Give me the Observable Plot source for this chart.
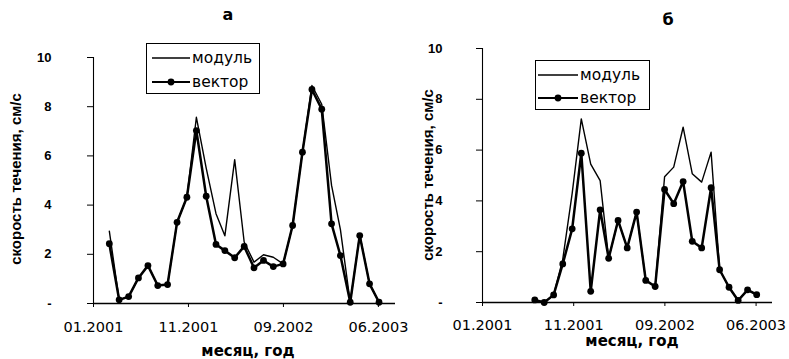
<!DOCTYPE html>
<html><head><meta charset="utf-8">
<script src="https://cdn.jsdelivr.net/npm/d3@7"></script>
<script src="https://cdn.jsdelivr.net/npm/@observablehq/plot@0.6"></script>
<style>
body{margin:0;background:#fff;font-family:"Liberation Sans",Arial,sans-serif;}
#wrap{position:relative;width:789px;height:359px;overflow:hidden;background:#fff;}
.panel{position:absolute;top:0;}
.t{position:absolute;white-space:nowrap;color:#000;transform:translate(-50%,-50%);font-weight:bold;line-height:1;}
.ylab{transform:translate(-50%,-50%) rotate(-90deg);font-family:"Liberation Sans",Arial,sans-serif;}
.h{font-family:"DejaVu Sans",sans-serif;}
.legend{position:absolute;border:1px solid #000;background:#fff;box-sizing:border-box;}
#wrap g[aria-label="x-axis tick label"]{font-family:"DejaVu Sans",sans-serif;font-size:14.5px;}
#wrap g[aria-label="y-axis tick label"]{font-family:"Liberation Sans",Arial,sans-serif;font-size:13px;font-weight:bold;}
</style></head><body><div id="wrap"></div>
<script>
// ---- data ----
const monthsA = ["2001-03","2001-04","2001-05","2001-06","2001-07","2001-08","2001-09","2001-10","2001-11","2001-12",
  "2002-01","2002-02","2002-03","2002-04","2002-05","2002-06","2002-07","2002-08","2002-09","2002-10","2002-11","2002-12",
  "2003-01","2003-02","2003-03","2003-04","2003-05","2003-06","2003-07"];
const modulA  = [2.94,0.15,0.28,1.04,1.54,0.73,0.77,3.30,4.32,7.57,5.50,3.65,2.75,5.85,2.50,1.68,1.98,1.88,1.61,3.17,6.15,8.86,8.10,4.80,3.00,0.05,2.80,0.80,0.05];
const vectorA = [2.43,0.15,0.28,1.04,1.54,0.73,0.77,3.30,4.32,7.03,4.36,2.40,2.15,1.86,2.32,1.45,1.75,1.50,1.61,3.17,6.15,8.70,7.90,3.24,1.95,0.05,2.76,0.80,0.05];

const monthsB = ["2001-07","2001-08","2001-09","2001-10","2001-11","2001-12",
  "2002-01","2002-02","2002-03","2002-04","2002-05","2002-06","2002-07","2002-08","2002-09","2002-10","2002-11","2002-12",
  "2003-01","2003-02","2003-03","2003-04","2003-05","2003-06","2003-07"];
const modulB  = [0.10,0.00,0.30,1.70,4.30,7.23,5.45,4.80,1.74,3.23,2.15,3.56,0.87,0.63,4.95,5.33,6.90,5.07,4.74,5.92,1.29,0.60,0.08,0.50,0.31];
const vectorB = [0.10,0.00,0.30,1.52,2.90,5.88,0.44,3.65,1.74,3.23,2.15,3.56,0.87,0.63,4.45,3.89,4.76,2.41,2.15,4.52,1.29,0.60,0.08,0.50,0.31];

const xTickDates  = ["2001-01-10","2001-11-06","2002-09-02","2003-06-29"];
const xTickLabels = ["01.2001","11.2001","09.2002","06.2003"];
const yTicks = [0,2,4,6,8,10];
const xDomainStr = ["2001-01-10","2003-08-22"];
const seriesNames = ["модуль","вектор"];
const panelTitles = ["а","б"];
const yLabel = "скорость течения, см/с";
const xLabel = "месяц, год";

// ---- build ----
const parseM = d3.utcParse("%Y-%m");
const parseD = d3.utcParse("%Y-%m-%d");
const xDomain = xDomainStr.map(parseD);
const tickDates = xTickDates.map(parseD);
const labelMap = new Map(tickDates.map((d,i)=>[+d, xTickLabels[i]]));
const wrap = document.getElementById("wrap");

function makePanel(months, modul, vector, o){
  const data = months.map((m,i)=>({date: parseM(m), modul: modul[i], vector: vector[i]}));
  const chart = Plot.plot({
    width: o.width, height: 359,
    marginLeft: o.ml, marginRight: o.mr, marginTop: o.mt, marginBottom: o.mb,
    style: {fontFamily: "'Liberation Sans', Arial, sans-serif", color: "#000", background: "transparent", overflow: "visible"},
    x: {type: "utc", domain: xDomain},
    y: {domain: [0, 10]},
    marks: [
      Plot.ruleY([0], {stroke: "#000", strokeWidth: 1.3}),
      Plot.ruleX([xDomain[0]], {y1: 0, y2: 10, stroke: "#000", strokeWidth: 1.1}),
      Plot.axisY(yTicks, {tickSize: 6, tickPadding: o.ytp, tickFormat: d => d === 0 ? "-" : String(d),
        fontSize: 13, fontWeight: "bold", label: null}),
      Plot.axisX(tickDates, {tickSize: 4, tickPadding: o.tp, tickFormat: d => labelMap.get(+d),
        fontSize: 14.5, label: null}),
      Plot.line(data, {x: "date", y: "modul", stroke: "#000", strokeWidth: 1.4}),
      Plot.line(data, {x: "date", y: "vector", stroke: "#000", strokeWidth: 2.5}),
      Plot.dot(data, {x: "date", y: "vector", r: 3.4, fill: "#000"})
    ]
  });
  const div = document.createElement("div");
  div.className = "panel";
  div.style.left = o.left + "px";
  div.appendChild(chart);
  wrap.appendChild(div);
}

function addText(txt, x, y, size, cls){
  const d = document.createElement("div");
  d.className = "t " + cls;
  d.textContent = txt;
  d.style.left = x + "px"; d.style.top = y + "px"; d.style.fontSize = size + "px";
  wrap.appendChild(d);
}

function addLegend(x, y, w, h, lx1, lx2, y1, y2){
  const ns = "http://www.w3.org/2000/svg";
  const box = document.createElement("div");
  box.className = "legend";
  Object.assign(box.style, {left: x+"px", top: y+"px", width: w+"px", height: h+"px"});
  const svg = document.createElementNS(ns, "svg");
  svg.setAttribute("width", w); svg.setAttribute("height", h);
  svg.style.position = "absolute"; svg.style.left = "-1px"; svg.style.top = "-1px";
  [[y1, 1.4, false],[y2, 2.2, true]].forEach(([yy, sw, dot], i) => {
    const l = document.createElementNS(ns, "line");
    l.setAttribute("x1", lx1); l.setAttribute("x2", lx2); l.setAttribute("y1", yy); l.setAttribute("y2", yy);
    l.setAttribute("stroke", "#000"); l.setAttribute("stroke-width", sw);
    svg.appendChild(l);
    if (dot) {
      const c = document.createElementNS(ns, "circle");
      c.setAttribute("cx", (lx1+lx2)/2); c.setAttribute("cy", yy); c.setAttribute("r", 3.4);
      svg.appendChild(c);
    }
    const t = document.createElementNS(ns, "text");
    t.setAttribute("x", lx2 + 2); t.setAttribute("y", yy); t.setAttribute("dy", "0.35em");
    t.setAttribute("font-size", 15.5); t.setAttribute("font-family", "'DejaVu Sans', sans-serif");
    t.textContent = seriesNames[i];
    svg.appendChild(t);
  });
  box.appendChild(svg);
  wrap.appendChild(box);
}

makePanel(monthsA, modulA, vectorA, {left: 0, width: 400, ml: 93, mr: 5, mt: 57, mb: 56, tp: 14, ytp: 36});
makePanel(monthsB, modulB, vectorB, {left: 400, width: 389, ml: 82, mr: 17, mt: 48, mb: 57, tp: 13, ytp: 34});

addText(panelTitles[0], 228, 15, 16, "h");
addText(panelTitles[1], 668, 20, 16, "h");
addText(yLabel, 15, 179, 15, "ylab");
addText(yLabel, 427, 175, 15, "ylab");
addText(xLabel, 248, 351, 15, "h");
addText(xLabel, 632, 341, 15, "h");

addLegend(146, 43, 114, 51, 6, 44, 15, 39);
addLegend(535, 60, 115, 50, 3, 43, 15, 38);
</script></body></html>
